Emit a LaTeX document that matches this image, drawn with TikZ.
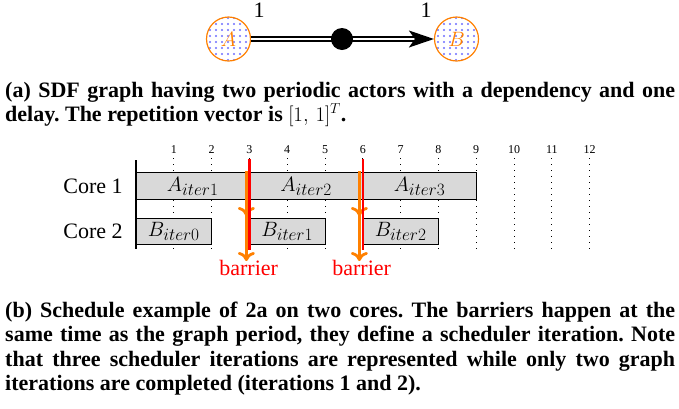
\documentclass[tikz,border=0pt]{standalone}
\usepackage{fontspec}
\setmainfont{Liberation Serif}
\usetikzlibrary{arrows.meta,patterns.meta}

\definecolor{dotblue}{RGB}{110,110,255}
\definecolor{syncorange}{RGB}{255,128,0}
\definecolor{jobgray}{RGB}{217,217,217}

% actor name with a large subscript
\newcommand{\iterof}[2]{$#1_{\mbox{\fontsize{16}{16}\selectfont$iter#2$}}$}

\tikzset{
	actor/.style={circle,draw=syncorange,line width=1.2pt,minimum size=44pt,inner sep=0pt,
		text=syncorange,preaction={fill=white},
		pattern={Dots[distance=6pt,radius=1.2pt]},pattern color=dotblue},
	delay/.style={circle,fill=black,minimum size=22pt,inner sep=0pt},
	channel/.style={line width=1.5pt,double=white,double distance=2.2pt,
		-{Stealth[length=25pt,width=17pt,inset=6pt]}},
	job/.style={draw,line width=0.9pt,fill=jobgray,minimum height=26.5pt,inner sep=0pt},
	tick/.style={line width=1pt,dash pattern=on 1pt off 5pt},
	barrier/.style={red,line width=2.6pt},
	sync/.style={syncorange,line width=2.8pt,-{To[length=9pt,width=17pt]}},
	captext/.style={text width=670pt,align=justify,inner sep=0pt,anchor=base west,
		font=\bfseries\fontsize{22}{24.5}\selectfont\frenchspacing}
}

\begin{document}
\begin{tikzpicture}[x=1pt,y=-1pt,font=\fontsize{22}{24}\selectfont]
	\useasboundingbox (0,0) rectangle (679,408);

	% (a) the SDF graph
	\node[actor] (A) at (228.5,39) {$A$};
	\node[actor] (B) at (456.5,39) {$B$};
	\draw[channel] (A) -- (B);
	\node[delay] (d) at (342,39) {};
	\node (ra) at (259,10) {1};
	\node (rb) at (426,10) {1};

	\node[captext] (capa) at (5,97) {(a) SDF graph having two periodic actors with a dependency and one\linebreak
		delay. The repetition vector is $[1,\,1]^T$.};

	% (b) the schedule
	\begin{scope}[shift={(136,0)},x=37.8pt]
		\foreach \t in {1,...,12} {
			\draw[tick] (\t,158) -- (\t,249);
			\node[font=\fontsize{12}{14}\selectfont] (n\t) at (\t,150) {\t};
		}

		\node[job,minimum width=113.4pt] (a1) at (1.5,186) {\iterof{A}{1}};
		\node[job,minimum width=113.4pt] (a2) at (4.5,186) {\iterof{A}{2}};
		\node[job,minimum width=113.4pt] (a3) at (7.5,186) {\iterof{A}{3}};
		\node[job,minimum width=75.6pt] (b0) at (1,231.5) {\iterof{B}{0}};
		\node[job,minimum width=75.6pt] (b1) at (4,231.5) {\iterof{B}{1}};
		\node[job,minimum width=75.6pt] (b2) at (7,231.5) {\iterof{B}{2}};

		\draw[line width=1.5pt] (0,160) -- (0,249);
		\node[anchor=east] (core1) at (-0.26,186) {Core 1};
		\node[anchor=east] (core2) at (-0.26,231.5) {Core 2};

		% barriers at 3 and 6
		\coordinate (r3t) at (3.01,159);
		\coordinate (r3b) at (3.01,250);
		\coordinate (o3t) at (2.92,171);
		\coordinate (o3m) at (2.92,216);
		\coordinate (o3b) at (2.92,261);
		\draw[sync] (o3t) -- (o3m);
		\draw[sync] (o3t) -- (o3b);
		\draw[barrier] (r3t) -- (r3b);
		\node[text=red] (l3) at (2.98,267.5) {barrier};

		\coordinate (r6t) at (6.01,159);
		\coordinate (r6b) at (6.01,250);
		\coordinate (o6t) at (5.91,171);
		\coordinate (o6m) at (5.91,216);
		\coordinate (o6b) at (5.91,261);
		\draw[sync] (o6t) -- (o6m);
		\draw[sync] (o6t) -- (o6b);
		\draw[barrier] (r6t) -- (r6b);
		\node[text=red] (l6) at (5.97,267.5) {barrier};
	\end{scope}

	\node[captext] (capb) at (5,317) {(b) Schedule example of 2a on two cores. The barriers happen at the\linebreak
		same time as the graph period, they define a scheduler iteration. Note\linebreak
		that three scheduler iterations are represented while only two graph\linebreak
		iterations are completed (iterations 1 and 2).};
\end{tikzpicture}
\end{document}
